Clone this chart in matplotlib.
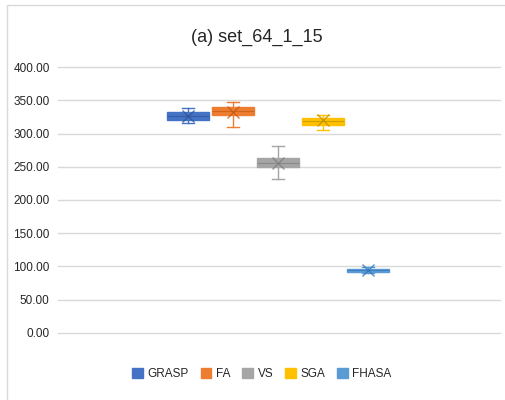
import matplotlib
matplotlib.use("Agg")
import matplotlib.pyplot as plt
from matplotlib.patches import Rectangle, Patch

plt.rcParams['font.family'] = ['Liberation Sans', 'DejaVu Sans']

methods = ['GRASP', 'FA', 'VS', 'SGA', 'FHASA']
colors = ['#4472C4', '#ED7D31', '#A5A5A5', '#FFC000', '#5B9BD5']
dark = ['#2F5597', '#C55A11', '#7F7F7F', '#BF9000', '#2E75B6']
whislo = [315.6, 309.6, 231.2, 305.5, 90.0]
q1 = [320.6, 328.0, 249.3, 313.0, 92.0]
med = [327.0, 334.6, 256.0, 319.0, 94.0]
q3 = [332.0, 340.6, 262.8, 324.0, 96.0]
whishi = [338.0, 347.0, 281.4, 328.0, 99.0]
means = [326.0, 333.0, 256.0, 320.0, 94.0]

fig = plt.figure(figsize=(5.05, 4.0), dpi=100)
fig.patches.append(Rectangle((7/505, -0.1), 1.2, 1 - 5/400 + 0.1, transform=fig.transFigure,
                             fill=False, edgecolor='#d9d9d9', linewidth=1))

ax = fig.add_axes([58/505, 1 - 332.7/400, 442/505, 265.4/400])
positions = [1, 2, 3, 4, 5]
for i, m in enumerate(methods):
    stats = [dict(whislo=whislo[i], q1=q1[i], med=med[i], q3=q3[i],
                  whishi=whishi[i], mean=means[i], fliers=[])]
    ax.bxp(stats, positions=[positions[i]], widths=0.92, capwidths=0.27,
           showmeans=True, patch_artist=True, manage_ticks=False,
           boxprops=dict(facecolor=colors[i], edgecolor=colors[i], linewidth=1),
           medianprops=dict(color=dark[i], linewidth=0.8, alpha=0.7),
           whiskerprops=dict(color=colors[i], linewidth=1),
           capprops=dict(color=colors[i], linewidth=1),
           meanprops=dict(marker='x', markeredgecolor=dark[i], markersize=8, markeredgewidth=1.0, alpha=0.8),
           zorder=3)

ax.set_ylim(0, 400)
ax.set_xlim(-1.89, 7.93)
ax.set_yticks(range(0, 401, 50))
ax.set_yticklabels(['%.2f' % v for v in range(0, 401, 50)], fontsize=8.5, color='#262626')
ax.set_xticks([])
ax.grid(axis='y', color='#d9d9d9', linewidth=1)
for gl in ax.get_ygridlines():
    gl.set_clip_on(False)
ax.set_axisbelow(True)
for s in ax.spines.values():
    s.set_visible(False)
ax.tick_params(axis='y', length=0, pad=6)

fig.text(257 / 505, 1 - 37 / 400, '(a) set_64_1_15', ha='center', va='center',
         fontsize=13, color='#262626')

handles = [Patch(facecolor=c, edgecolor=c) for c in colors]
fig.legend(handles, methods, loc='center', bbox_to_anchor=(262 / 505, 1 - 374 / 400),
           ncol=5, frameon=False, fontsize=8.5, handlelength=0.9, handleheight=0.9,
           handletextpad=0.4, columnspacing=1.0, labelcolor='#262626')

fig.savefig('out.png', dpi=100)
